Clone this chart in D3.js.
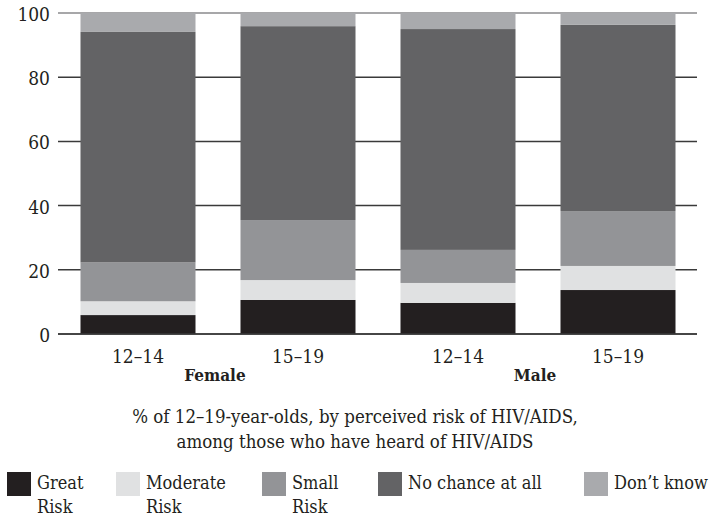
<!DOCTYPE html>
<html><head><meta charset="utf-8">
<script src="https://cdn.jsdelivr.net/npm/d3@7"></script>
<style>body{margin:0;background:#fff}svg{display:block}</style>
</head><body>
<svg id="c" width="709" height="521"></svg>
<script>
const categories = ["F12","F15","M12","M15"];
const ageLabels = ["12–14","15–19","12–14","15–19"];
const groupLabels = ["Female","Male"];
const seriesNames = ["Great Risk","Moderate Risk","Small Risk","No chance at all","Don’t know"];
const greatRisk    = [5.9, 10.6, 9.7, 13.7];
const moderateRisk = [4.3, 6.2, 6.2, 7.5];
const smallRisk    = [12.1, 18.7, 10.3, 17.1];
const noChance     = [71.8, 60.4, 68.8, 58.0];
const dontKnow     = [5.9, 4.1, 5.0, 3.7];
const yTicks = [0,20,40,60,80,100];
const colors = ["#231f20","#e0e1e2","#939497","#636365","#a9aaad"];
const legendLines = [["Great","Risk"],["Moderate","Risk"],["Small","Risk"],["No chance at all"],["Don’t know"]];

const keys = ["g","m","s","n","d"];
const rows = categories.map((c,i)=>({cat:c,g:greatRisk[i],m:moderateRisk[i],s:smallRisk[i],n:noChance[i],d:dontKnow[i]}));
const stack = d3.stack().keys(keys)(rows);

const svg = d3.select("#c");
const FF = "'DejaVu Serif Condensed','DejaVu Serif',serif";
const x = d3.scaleBand().domain(categories).range([58,698]).paddingInner(0.28125).paddingOuter(0.140625);
const y = d3.scaleLinear().domain([0,100]).range([334,13]);

svg.append("g").selectAll("line").data(yTicks).join("line")
  .attr("x1",58).attr("x2",697).attr("y1",d=>y(d)).attr("y2",d=>y(d))
  .attr("stroke",d=>d===100?"#8a8a8c":"#3a3a3a").attr("stroke-width",1.5);
svg.append("g").selectAll("text").data(yTicks).join("text")
  .attr("x",50).attr("y",d=>y(d)+8).attr("text-anchor","end").attr("font-family",FF).attr("font-stretch","condensed").attr("fill","#231f20")
  .attr("font-size",19).text(d=>d);

svg.append("g").selectAll("g").data(stack).join("g")
  .attr("fill",(d,i)=>colors[i])
  .selectAll("rect").data(d=>d).join("rect")
  .attr("x",d=>x(d.data.cat)).attr("width",x.bandwidth())
  .attr("y",d=>y(d[1])).attr("height",d=>y(d[0])-y(d[1]));

svg.append("line").attr("x1",58).attr("x2",697).attr("y1",y(0)).attr("y2",y(0)).attr("stroke","#3a3a3a").attr("stroke-width",1.5);

svg.append("g").selectAll("text").data(categories).join("text")
  .attr("x",d=>x(d)+x.bandwidth()/2).attr("y",363).attr("text-anchor","middle").attr("font-family",FF).attr("font-stretch","condensed").attr("fill","#231f20")
  .attr("font-size",19).text((d,i)=>ageLabels[i]);
svg.append("g").selectAll("text").data(groupLabels).join("text")
  .attr("x",(d,i)=>(x(categories[2*i])+x(categories[2*i+1])+x.bandwidth())/2 - 3)
  .attr("y",381).attr("text-anchor","middle").attr("font-family",FF).attr("font-stretch","condensed").attr("fill","#231f20").attr("font-size",17).attr("font-weight","bold").text(d=>d);

svg.append("text").attr("x",355).attr("y",423).attr("text-anchor","middle").attr("font-family",FF).attr("font-stretch","condensed").attr("fill","#231f20").attr("font-size",18.5)
  .text("% of 12–19-year-olds, by perceived risk of HIV/AIDS,");
svg.append("text").attr("x",355).attr("y",448).attr("text-anchor","middle").attr("font-family",FF).attr("font-stretch","condensed").attr("fill","#231f20").attr("font-size",18.5)
  .text("among those who have heard of HIV/AIDS");

const legX = [7,116,262,378,584];
const lg = svg.append("g").selectAll("g").data(seriesNames).join("g")
  .attr("transform",(d,i)=>`translate(${legX[i]},472)`);
lg.append("rect").attr("width",24).attr("height",24).attr("fill",(d,i)=>colors[i]);
lg.each(function(d,i){
  const g = d3.select(this);
  legendLines[i].forEach((t,j)=>{
    g.append("text").attr("x",30).attr("y",17+j*24).attr("font-family",FF).attr("font-stretch","condensed").attr("fill","#231f20").attr("font-size",18).text(t);
  });
});
</script>
</body></html>
